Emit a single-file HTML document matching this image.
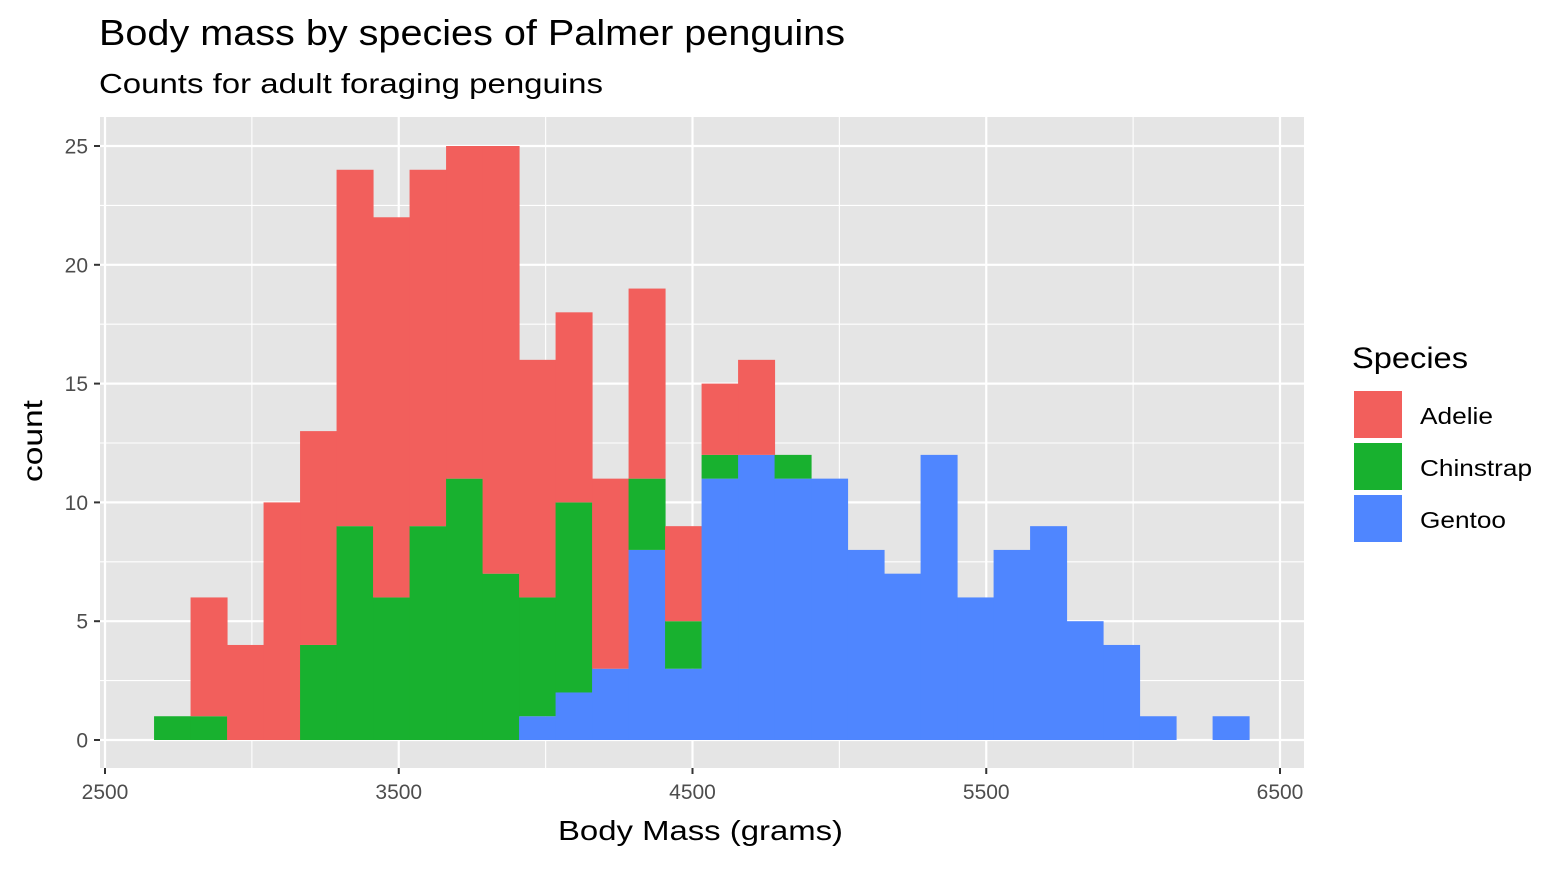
<!DOCTYPE html>
<html><head><meta charset="utf-8"><style>
body{margin:0;background:#fff;font-family:"Liberation Sans",Arial,sans-serif;}
svg text{font-family:"Liberation Sans",Arial,sans-serif;}
</style></head><body>
<svg id="chart" width="1566" height="864" xmlns="http://www.w3.org/2000/svg">
<text x="99" y="45" font-size="36" textLength="746" lengthAdjust="spacingAndGlyphs" fill="#000">Body mass by species of Palmer penguins</text>
<text x="99" y="93" font-size="28" textLength="504" lengthAdjust="spacingAndGlyphs" fill="#000">Counts for adult foraging penguins</text>
<rect x="100" y="117" width="1204" height="651" fill="#E5E5E5"/>
<g id="grid"></g>
<g id="bars"></g>
<g id="axes"></g>
<text x="558" y="840" font-size="28" textLength="285" lengthAdjust="spacingAndGlyphs">Body Mass (grams)</text>
<text transform="translate(42,482) rotate(-90)" font-size="28" textLength="82" lengthAdjust="spacingAndGlyphs">count</text>
<g>
<text x="1352" y="368" font-size="30" textLength="116" lengthAdjust="spacingAndGlyphs">Species</text>
<rect x="1353" y="390" width="50" height="49" fill="#F25F5C" stroke="#fff" stroke-width="2"/>
<text x="1420" y="424" font-size="23" textLength="73" lengthAdjust="spacingAndGlyphs">Adelie</text>
<rect x="1353" y="442" width="50" height="49" fill="#18B12F" stroke="#fff" stroke-width="2"/>
<text x="1420" y="476" font-size="23" textLength="112" lengthAdjust="spacingAndGlyphs">Chinstrap</text>
<rect x="1353" y="494" width="50" height="49" fill="#4F86FF" stroke="#fff" stroke-width="2"/>
<text x="1420" y="528" font-size="23" textLength="86" lengthAdjust="spacingAndGlyphs">Gentoo</text>
</g>
</svg>
<script>
const binStart = 2667;
const binWidth = 124.26;
const gentoo   = [0,0,0,0,0,0,0,0,0,0,1,2,3,8,3,11,12,11,11,8,7,12,6,8,9,5,4,1,0,1];
const chinstrap= [1,1,0,0,4,9,6,9,11,7,5,8,0,3,2,1,0,1,0,0,0,0,0,0,0,0,0,0,0,0];
const adelie   = [0,5,4,10,9,15,16,15,14,18,10,8,8,8,4,3,4,0,0,0,0,0,0,0,0,0,0,0,0,0];
const xTicks = [2500,3500,4500,5500,6500];
const xMinor = [3000,4000,5000,6000];
const yTicks = [0,5,10,15,20,25];
const yMinor = [2.5,7.5,12.5,17.5,22.5];
const X = v => 105 + (v-2500)*0.29375;
const Y = v => 740 - v*23.76;
const NS = "http://www.w3.org/2000/svg";
function mk(parent, tag, attrs){const e=document.createElementNS(NS,tag);for(const k in attrs)e.setAttribute(k,attrs[k]);parent.appendChild(e);return e;}
const grid=document.getElementById('grid'), bars=document.getElementById('bars'), axes=document.getElementById('axes');
xMinor.forEach(v=>{const l=mk(grid,'line',{x1:X(v),x2:X(v),y1:117,y2:768,stroke:'#fff','stroke-width':1.1});

});
yMinor.forEach(v=>{const l=mk(grid,'line',{x1:100,x2:1304,y1:Y(v),y2:Y(v),stroke:'#fff','stroke-width':1.1});

});
xTicks.forEach(v=>{const l=mk(grid,'line',{x1:X(v),x2:X(v),y1:117,y2:768,stroke:'#fff','stroke-width':2.2});


const t=mk(axes,'line',{x1:X(v),x2:X(v),y1:768,y2:774,stroke:'#333','stroke-width':2});


const tx=mk(axes,'text',{x:X(v),y:799,'font-size':21,fill:'#4D4D4D','text-anchor':'middle'});tx.textContent=v;

});
yTicks.forEach(v=>{const l=mk(grid,'line',{x1:100,x2:1304,y1:Y(v),y2:Y(v),stroke:'#fff','stroke-width':2.2});


const t=mk(axes,'line',{x1:94,x2:100,y1:Y(v),y2:Y(v),stroke:'#333','stroke-width':2});


const tx=mk(axes,'text',{x:88,y:Y(v)+7.5,'font-size':21,fill:'#4D4D4D','text-anchor':'end'});tx.textContent=v;

});
const series=[['gentoo',gentoo,'#4F86FF'],['chinstrap',chinstrap,'#18B12F'],['adelie',adelie,'#F25F5C']];
for(let i=0;i<gentoo.length;i++){
  let base=0;
  const x0=X(binStart+i*binWidth), x1=X(binStart+(i+1)*binWidth);
  series.forEach(([name,arr,col])=>{
    const v=arr[i];
    if(v>0){const r=mk(bars,'rect',{x:x0,y:Y(base+v),width:x1-x0+0.5,height:Y(base)-Y(base+v),fill:col});
    
    }
    base+=v;
  });
}
</script>
</body></html>
